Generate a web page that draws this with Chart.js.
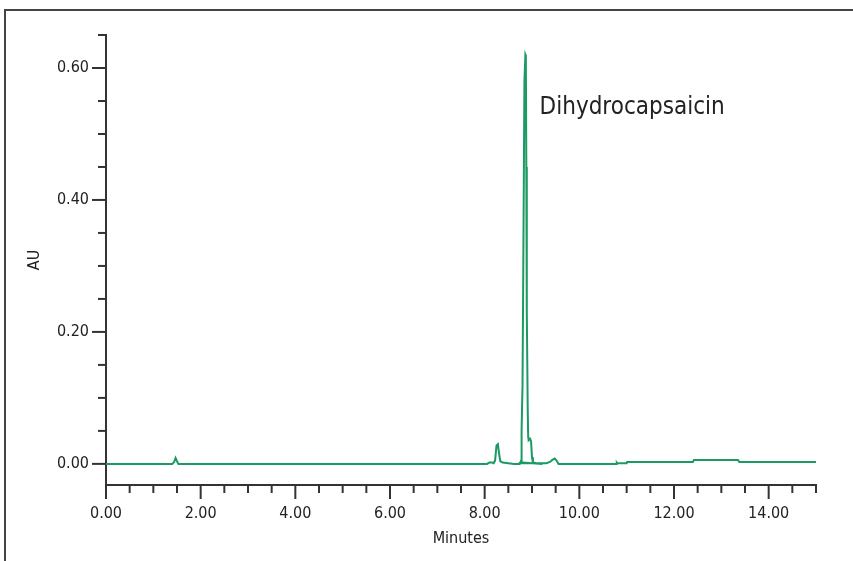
<!DOCTYPE html>
<html>
<head>
<meta charset="utf-8">
<script src="https://cdn.jsdelivr.net/npm/chart.js@4/dist/chart.umd.min.js"></script>
<style>
  html, body { margin: 0; padding: 0; background: #fff; }
  #wrap { width: 853px; height: 561px; position: relative; }
</style>
</head>
<body>
<div id="wrap"><canvas id="chrom"></canvas></div>
<script>
// retention time (min) and absorbance (AU)
const minutes = [
  0.00, 1.40, 1.44, 1.47, 1.50, 1.53, 8.05, 8.10, 8.16, 8.19, 8.22, 8.25, 8.28, 8.30, 8.33,
  8.38, 8.50, 8.62, 8.74, 8.77, 8.78, 8.80, 8.81, 8.84, 8.86, 8.87, 8.88, 8.89, 8.91, 8.92,
  8.93, 8.96, 8.98, 9.00, 9.02, 9.10, 9.22, 8.80, 8.72, 9.30, 9.38, 9.43, 9.48, 9.52, 9.56,
  10.78, 10.79, 10.80, 11.00, 11.01, 12.40, 12.42, 13.35, 13.38, 15.00
];
const absorbance = [
  0.000, 0.000, 0.003, 0.009, 0.004, 0.000, 0.000, 0.002, 0.002, 0.001, 0.005, 0.028, 0.030, 0.018, 0.004,
  0.002, 0.001, 0.000, 0.000, 0.005, 0.050, 0.120, 0.230, 0.580, 0.620, 0.618, 0.450, 0.230, 0.080, 0.040,
  0.036, 0.038, 0.034, 0.010, 0.002, 0.001, 0.000, 0.002, 0.001, 0.001, 0.003, 0.006, 0.008, 0.005, 0.000,
  0.000, 0.002, 0.001, 0.001, 0.003, 0.003, 0.006, 0.006, 0.003, 0.003
];
const xTickLabels = [0, 2, 4, 6, 8, 10, 12, 14];
const yTickLabels = [0, 0.2, 0.4, 0.6];
const peakLabel = { text: 'Dihydrocapsaicin', x: 9.16, y: 0.539 };

const points = minutes.map((t, i) => ({ x: t, y: absorbance[i] }));
const FONT = '"DejaVu Sans Condensed", "DejaVu Sans", sans-serif';

// minor / major tick marks, outer frame and peak name
const tickMarks = {
  id: 'tickMarks',
  afterDraw(chart) {
    const ctx = chart.ctx;
    const xs = chart.scales.x, ys = chart.scales.y;
    const area = chart.chartArea;
    ctx.save();
    ctx.strokeStyle = '#333';
    ctx.lineWidth = 2;
    for (let i = 0; i <= 30; i++) {
      const px = xs.getPixelForValue(i * 0.5);
      const len = (i % 4 === 0) ? 14 : 8;
      ctx.beginPath();
      ctx.moveTo(px, area.bottom);
      ctx.lineTo(px, area.bottom + len);
      ctx.stroke();
    }
    for (let i = 0; i <= 13; i++) {
      const py = ys.getPixelForValue(i * 0.05);
      const len = (i % 4 === 0) ? 14 : 8;
      ctx.beginPath();
      ctx.moveTo(area.left, py);
      ctx.lineTo(area.left - len, py);
      ctx.stroke();
    }
    // frame
    ctx.strokeStyle = '#444';
    ctx.beginPath();
    ctx.moveTo(5, chart.height);
    ctx.lineTo(5, 10);
    ctx.lineTo(chart.width, 10);
    ctx.stroke();
    // peak name
    ctx.fillStyle = '#222';
    ctx.font = '24px ' + FONT;
    ctx.textAlign = 'left';
    ctx.textBaseline = 'middle';
    ctx.fillText(peakLabel.text, xs.getPixelForValue(peakLabel.x), ys.getPixelForValue(peakLabel.y));
    ctx.restore();
  }
};

new Chart(document.getElementById('chrom'), {
  type: 'scatter',
  data: {
    datasets: [{
      data: points,
      showLine: true,
      pointRadius: 0,
      borderColor: '#1c9a63',
      borderWidth: 2,
      tension: 0
    }]
  },
  options: {
    responsive: true,
    maintainAspectRatio: false,
    animation: false,
    layout: { padding: { left: 0, right: 37, top: 35, bottom: 0 } },
    plugins: { legend: { display: false }, tooltip: { enabled: false } },
    scales: {
      x: {
        type: 'linear',
        min: 0,
        max: 15,
        grid: { display: false },
        border: { display: true, color: '#333', width: 2 },
        afterBuildTicks: (s) => { s.ticks = xTickLabels.map(v => ({ value: v })); },
        afterFit: (s) => { s.height = 76; },
        ticks: {
          padding: 11,
          color: '#222',
          font: { family: FONT, size: 16 },
          maxRotation: 0,
          callback: (v) => Number(v).toFixed(2)
        },
        title: {
          display: true,
          text: 'Minutes',
          color: '#222',
          font: { family: FONT, size: 16 },
          padding: { top: 0, bottom: 13 }
        }
      },
      y: {
        type: 'linear',
        min: -0.032,
        max: 0.65,
        grid: { display: false },
        border: { display: true, color: '#333', width: 2 },
        afterBuildTicks: (s) => { s.ticks = yTickLabels.map(v => ({ value: v })); },
        afterFit: (s) => { s.width = 106; },
        ticks: {
          padding: 9,
          color: '#222',
          font: { family: FONT, size: 16 },
          callback: (v) => Number(v).toFixed(2)
        },
        title: {
          display: true,
          text: 'AU',
          color: '#222',
          font: { family: FONT, size: 16 },
          padding: { top: 25, bottom: 0 }
        }
      }
    }
  },
  plugins: [tickMarks]
});
</script>
</body>
</html>
